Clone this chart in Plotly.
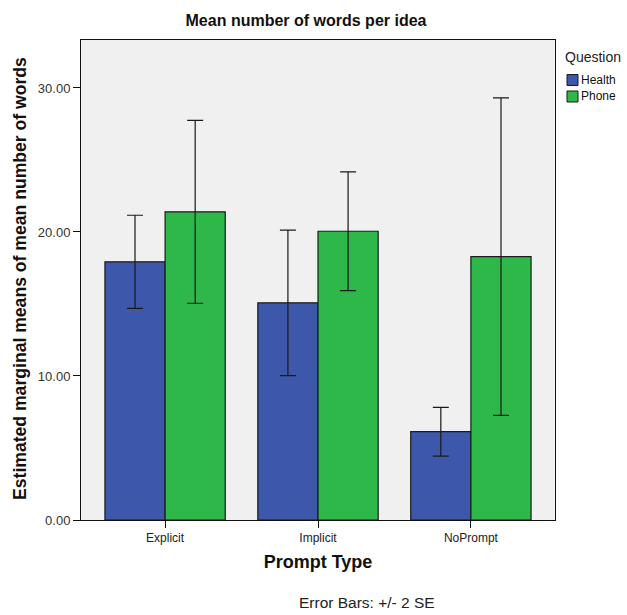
import plotly.graph_objects as go

categories = ["Explicit", "Implicit", "NoPrompt"]
health_means = [17.93, 15.08, 6.13]
health_err = [3.23, 5.05, 1.69]
phone_means = [21.40, 20.05, 18.29]
phone_err = [6.35, 4.12, 11.02]
y_ticks = [0, 10, 20, 30]
series_names = ["Health", "Phone"]
series_colors = ["#3d58ab", "#2fb84a"]

FONT = "Liberation Sans, Arial, sans-serif"

fig = go.Figure()
for name, means, errs, col in zip(series_names, [health_means, phone_means],
                                  [health_err, phone_err], series_colors):
    fig.add_trace(go.Bar(
        name=name, x=categories, y=means, showlegend=False,
        marker=dict(color=col, line=dict(color="#1a1a1a", width=1.2)),
        error_y=dict(type="data", array=errs, color="#1a1a1a", thickness=1.2, width=8),
    ))

L, R, T, B = 81, 72, 40, 95
W, H = 627, 615
pw, ph = W - L - R, H - T - B


def px(x):
    return (x - L) / pw


def py(y):
    return (H - B - y) / ph


shapes = []
annotations = [
    dict(text="<b>Estimated marginal means of mean number of words</b>", textangle=-90,
         xref="paper", yref="paper", x=px(20), y=py(279),
         xanchor="center", yanchor="middle", showarrow=False,
         font=dict(size=17.6, color="#111")),
    dict(text="Error Bars: +/- 2 SE", xref="paper", yref="paper",
         x=px(367), y=py(602), xanchor="center", yanchor="middle",
         showarrow=False, font=dict(size=15.5, color="#222")),
    dict(text="Question", xref="paper", yref="paper", x=px(563), y=py(57),
         xanchor="left", yanchor="middle", showarrow=False,
         font=dict(size=14, color="#222")),
]
for i, (name, col) in enumerate(zip(series_names, series_colors)):
    cy = 80 + 16.5 * i
    shapes.append(dict(type="rect", xref="paper", yref="paper",
                       x0=px(567), x1=px(578), y0=py(cy - 5.5), y1=py(cy + 5.5),
                       fillcolor=col, line=dict(color="#1a1a1a", width=1)))
    annotations.append(dict(text=name, xref="paper", yref="paper", x=px(578.5), y=py(cy),
                            xanchor="left", yanchor="middle", showarrow=False,
                            font=dict(size=12, color="#111")))

fig.update_layout(
    width=W, height=H,
    margin=dict(l=L, r=R, t=T, b=B, autoexpand=False),
    paper_bgcolor="white", plot_bgcolor="#f0f0f0",
    barmode="group", bargap=0.213, bargroupgap=0,
    font=dict(family=FONT, color="#222"),
    showlegend=False,
    title=dict(text="<b>Mean number of words per idea</b>", font=dict(size=16, color="#111"),
               x=306 / W, xanchor="center", y=1 - 20 / H, yanchor="middle"),
    xaxis=dict(
        range=[-0.55, 2.55], showline=True, mirror=True, linecolor="#111", linewidth=1,
        ticks="outside", ticklen=7, tickcolor="#111", tickfont=dict(size=12, color="#222"),
        title=dict(text="<b>Prompt Type</b>", font=dict(size=18, color="#111"), standoff=10),
        showgrid=False, zeroline=False,
    ),
    yaxis=dict(
        range=[0, 33.33], showline=True, mirror=True, linecolor="#111", linewidth=1,
        tickvals=y_ticks, tickformat=".2f", ticks="outside", ticklen=7, tickcolor="#111",
        tickfont=dict(size=13, color="#333"), showgrid=False, zeroline=False,
    ),
    shapes=shapes,
    annotations=annotations,
)

fig.write_html("out.html")
